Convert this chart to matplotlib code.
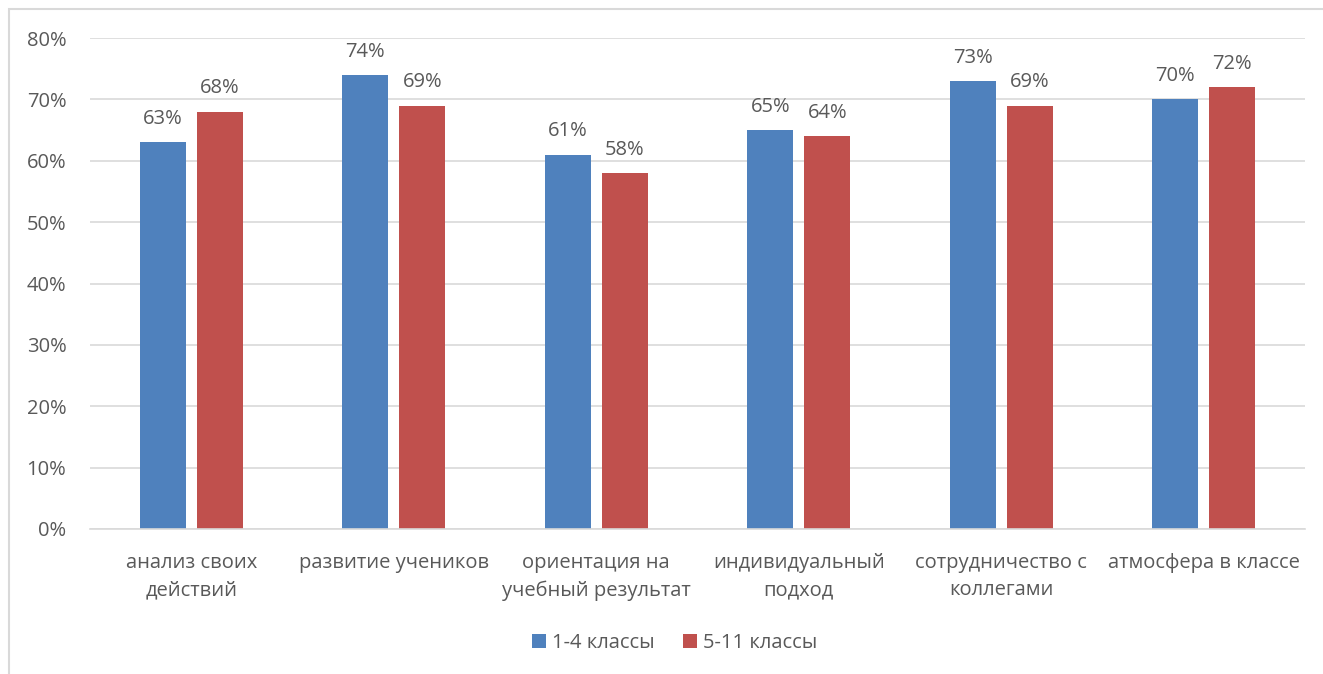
import numpy as np
import matplotlib.pyplot as plt
from matplotlib.patches import Rectangle

categories = ['анализ своих\nдействий', 'развитие учеников', 'ориентация на\nучебный результат',
              'индивидуальный\nподход', 'сотрудничество с\nколлегами', 'атмосфера в классе']
grade_1_4 = [63, 74, 61, 65, 73, 70]
grade_5_11 = [68, 69, 58, 64, 69, 72]
series_names = ['1-4 классы', '5-11 классы']

blue = '#4F81BD'
red = '#C0504D'
text_color = '#595959'
fs = 14.5

plt.rcParams['font.family'] = ['Open Sans', 'DejaVu Sans']

fig = plt.figure(figsize=(13.23, 6.74), dpi=100)
ax = fig.add_axes([90 / 1323, 1 - 529 / 674, 1215 / 1323, 491 / 674])

x = np.arange(len(categories))
width = 0.227
offset = 0.141
bars1 = ax.bar(x - offset, grade_1_4, width, color=blue, label=series_names[0])
bars2 = ax.bar(x + offset, grade_5_11, width, color=red, label=series_names[1])

for bars in (bars1, bars2):
    for b in bars:
        ax.annotate(f'{b.get_height():.0f}%', (b.get_x() + b.get_width() / 2, b.get_height()),
                    xytext=(0, 9.5), textcoords='offset points', ha='center', va='bottom',
                    fontsize=fs, color=text_color)

ax.set_xlim(-0.5, len(categories) - 0.5)
ax.set_ylim(0, 80)
ax.set_yticks(range(0, 81, 10))
ax.set_yticklabels([f'{v}%' for v in range(0, 81, 10)])
ax.set_xticks(x)
ax.set_xticklabels(categories, linespacing=1.5)
ax.tick_params(axis='both', length=0, labelsize=fs, colors=text_color)
ax.tick_params(axis='y', pad=17)
ax.tick_params(axis='x', pad=17)
ax.grid(axis='y', color='#D9D9D9', linewidth=1.2)
ax.set_axisbelow(True)
for s in ['top', 'right', 'left']:
    ax.spines[s].set_visible(False)
ax.spines['bottom'].set_color('#D9D9D9')
ax.spines['bottom'].set_linewidth(1.2)

leg = fig.legend(loc='center', bbox_to_anchor=(675 / 1323, 1 - 643 / 674), ncol=2, frameon=False,
                 fontsize=fs, handlelength=0.7, handleheight=0.7, columnspacing=1.4, handletextpad=0.3)
for t in leg.get_texts():
    t.set_color(text_color)

# outer chart border (only left and top edges visible in the crop)
fig.add_artist(Rectangle((9 / 1323, -0.1), 1.2, 1 - 9 / 674 + 0.1, transform=fig.transFigure,
                         fill=False, edgecolor='#D9D9D9', linewidth=1.5))

fig.savefig('out.png', dpi=100)
